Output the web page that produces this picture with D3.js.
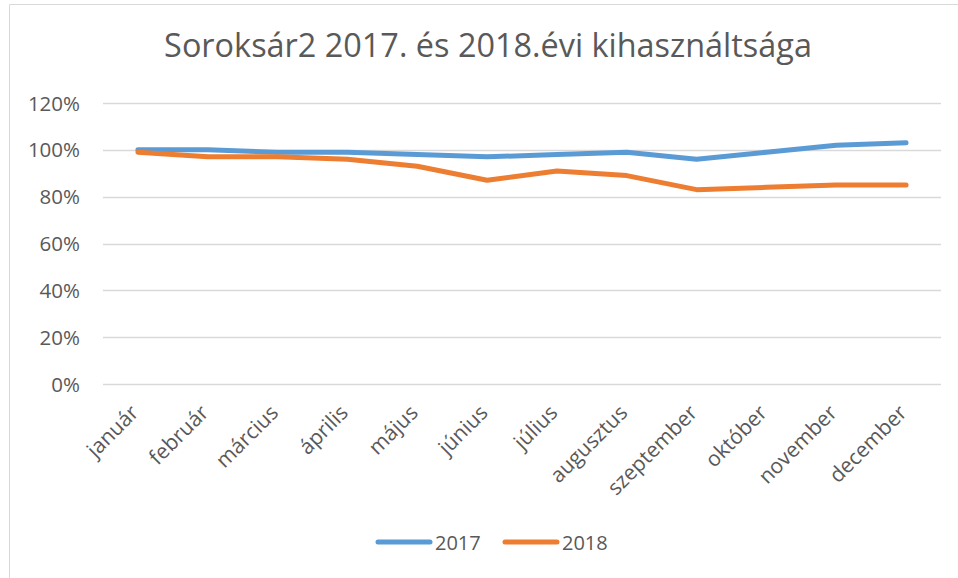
<!DOCTYPE html>
<html><head><meta charset="utf-8">
<script src="https://cdn.jsdelivr.net/npm/d3@7"></script>
<style>body{margin:0;background:#fff}svg{display:block}text{font-family:"Open Sans",Lato,sans-serif;fill:#595959}</style>
</head><body><svg id="c" width="958" height="578"></svg>
<script>
const title = "Soroksár2 2017. és 2018.évi kihasználtsága";
const months = ["január","február","március","április","május","június","július","augusztus","szeptember","október","november","december"];
const series2017 = [100,100,99,99,98,97,98,99,96,99,102,103];
const series2018 = [99,97,97,96,93,87,91,89,83,84,85,85];
const yTicks = [0,20,40,60,80,100,120];
const seriesNames = ["2017","2018"];
const colors = ["#5B9BD5","#ED7D31"];

const svg = d3.select("#c");
svg.append("rect").attr("x",0).attr("y",0).attr("width",958).attr("height",578).attr("fill","#fff");
svg.append("path").attr("d","M9.5,578 V4.5 H958").attr("fill","none").attr("stroke","#d9d9d9").attr("stroke-width",1);

const m = {l:103, r:941, t:103, b:384};
const x = d3.scaleBand().domain(months).range([m.l,m.r]);
const y = d3.scaleLinear().domain([0,120]).range([m.b,m.t]);

const t = svg.append("text").attr("x",488).attr("y",57).attr("text-anchor","middle").attr("font-size",28).text(title);
const tw = t.node().getComputedTextLength();
t.attr("font-size", 28*648/tw);

const g = svg.append("g");
g.selectAll("line.grid").data(yTicks).join("line").attr("class","grid")
 .attr("x1",m.l).attr("x2",m.r).attr("y1",d=>Math.round(y(d))+0.5).attr("y2",d=>Math.round(y(d))+0.5)
 .attr("stroke","#d9d9d9").attr("stroke-width",1.3);
g.selectAll("text.yl").data(yTicks).join("text").attr("class","yl")
 .attr("x",80).attr("y",d=>y(d)+7.5).attr("text-anchor","end").attr("font-size",20.5).text(d=>d+"%");

const cx = d => x(d)+x.bandwidth()/2;
g.selectAll("text.xl").data(months).join("text").attr("class","xl")
 .attr("transform",d=>`translate(${cx(d)+2},${414}) rotate(-45)`)
 .attr("text-anchor","end").attr("font-size",21).text(d=>d);

const line = d3.line().x((d,i)=>cx(months[i])).y(d=>y(d));
[series2017,series2018].forEach((s,k)=>{
  g.append("path").datum(s).attr("d",line).attr("fill","none").attr("stroke",colors[k])
   .attr("stroke-width",5).attr("stroke-linecap","round").attr("stroke-linejoin","round");
});

const leg = [{x:378,n:seriesNames[0],c:colors[0]},{x:505,n:seriesNames[1],c:colors[1]}];
leg.forEach(o=>{
  svg.append("line").attr("x1",o.x).attr("x2",o.x+52).attr("y1",542).attr("y2",542)
   .attr("stroke",o.c).attr("stroke-width",5).attr("stroke-linecap","round");
  svg.append("text").attr("x",o.x+57).attr("y",549.5).attr("font-size",20).text(o.n);
});
</script></body></html>
